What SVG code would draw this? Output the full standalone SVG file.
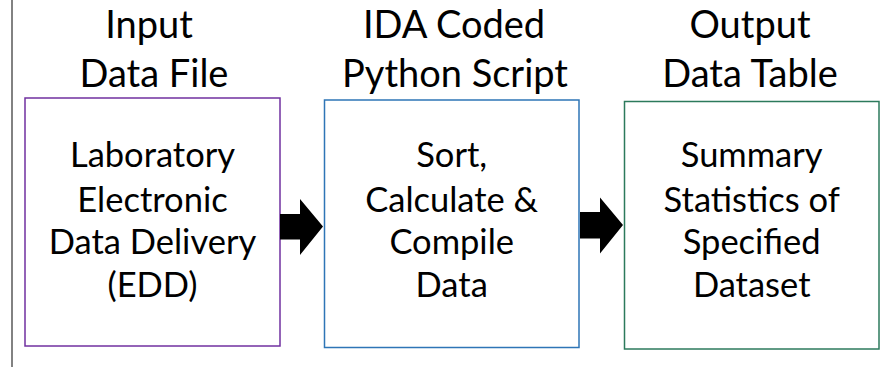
<svg xmlns="http://www.w3.org/2000/svg" width="881" height="367" viewBox="0 0 881 367">
<style>
text{font-family:Lato,"Open Sans","Liberation Sans",sans-serif;fill:#000;text-anchor:middle}
.h{font-size:38px}
.b{font-size:34.5px}
.box{fill:#fff;stroke-width:1.5}
</style>
<rect width="881" height="367" fill="#fff"/>
<line x1="12" y1="0" x2="12" y2="367" stroke="#595959" stroke-width="1.5"/>
<g id="node-input">
<text class="h" x="149" y="38">Input</text>
<text class="h" x="154" y="86.5">Data File</text>
<rect class="box" x="25" y="98" width="255" height="248" stroke="#7030A0"/>
<text class="b" x="152.5" y="167">Laboratory</text>
<text class="b" x="152.5" y="211.5">Electronic</text>
<text class="b" x="152.5" y="254">Data Delivery</text>
<text class="b" x="152.5" y="296.5">(EDD)</text>
</g>
<g id="node-script">
<text class="h" x="454" y="38">IDA Coded</text>
<text class="h" x="455" y="86.5">Python Script</text>
<rect class="box" x="324.5" y="100" width="254.5" height="247.5" stroke="#2E75B6"/>
<text class="b" x="451.7" y="167">Sort,</text>
<text class="b" x="451.7" y="211.5">Calculate &amp;</text>
<text class="b" x="451.7" y="254">Compile</text>
<text class="b" x="451.7" y="296.5">Data</text>
</g>
<g id="node-output">
<text class="h" x="750" y="38">Output</text>
<text class="h" x="750" y="86.5">Data Table</text>
<rect class="box" x="624.5" y="101.5" width="254.5" height="247.5" stroke="#2C7A5C"/>
<text class="b" x="751.7" y="167">Summary</text>
<text class="b" x="751.7" y="211.5">Statistics of</text>
<text class="b" x="751.7" y="254">Specified</text>
<text class="b" x="751.7" y="296.5">Dataset</text>
</g>
<g id="connectors" fill="#000">
<polygon points="280,214 300,214 300,199 323,226.5 300,255 300,239.5 280,239.5"/>
<polygon points="580,212 600,212 600,197.5 623,225 600,253.5 600,238.5 580,238.5"/>
</g>
</svg>
